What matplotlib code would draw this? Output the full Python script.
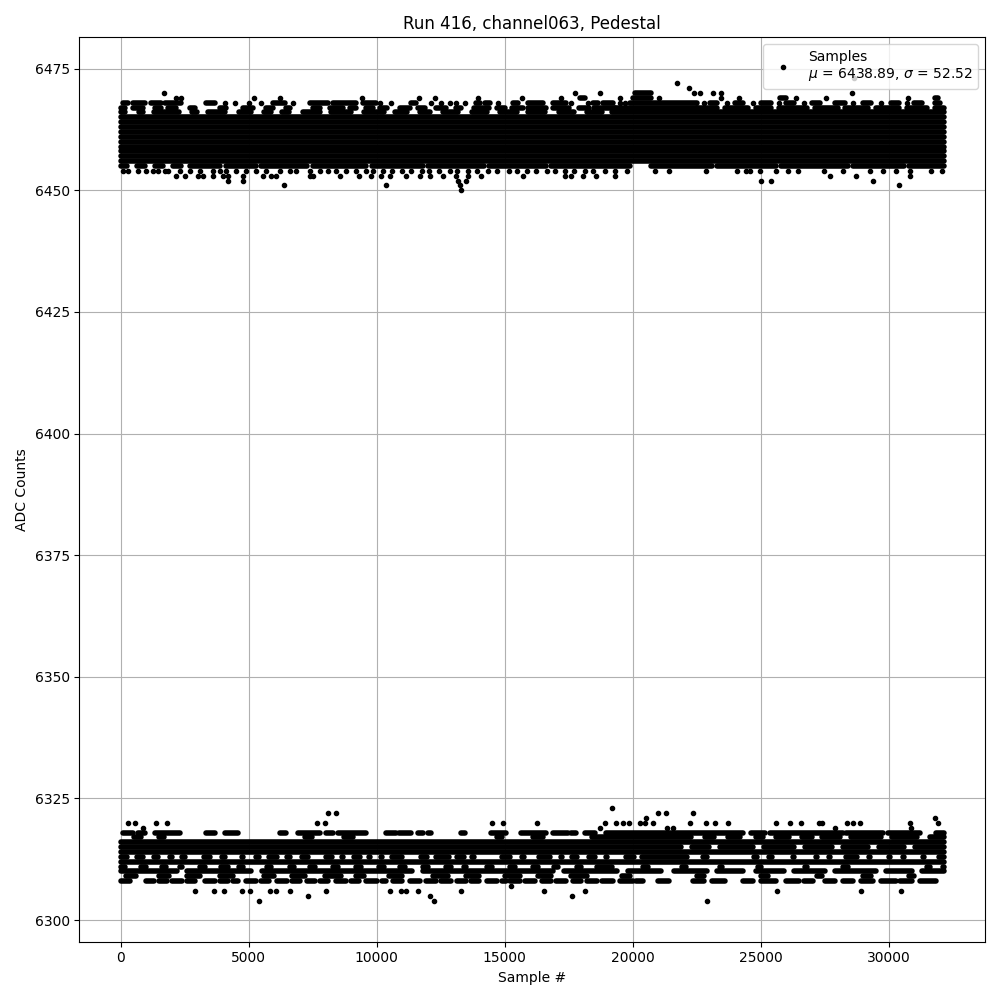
import matplotlib
matplotlib.use("Agg")
import matplotlib.pyplot as plt

# samples run from 0 to ~32150, ADC values are integers
X_END = 32150
R = 109  # dot radius in samples (used to place white gaps between dots)

# ---- upper band (ADC ~6456..6468) ----
up_full_levels = list(range(6456, 6466))

up_gaps = {
    6466: [(300, 600), (1000, 1200), (2400, 2700), (3100, 3300), (4200, 4500), (5200, 5500),
           (6000, 6200), (6700, 7000), (7900, 8100), (9100, 9400), (10400, 10600),
           (11300, 11600), (12200, 12500), (13300, 13600), (14400, 14700), (15600, 15800),
           (16700, 17000), (17800, 18100), (18900, 19100)],
}

up_runs = {
    6467: [(26, 156), (481, 872), (1328, 1588), (1848, 2174), (2695, 2890), (3866, 4127),
           (4778, 5168), (5689, 5950), (6470, 6600), (7512, 7772), (8163, 8684), (8944, 9205),
           (9595, 9856), (10117, 10400), (10900, 11300), (11600, 11900), (12300, 12700),
           (13100, 13300), (13800, 14400), (14700, 15000), (15300, 15700), (15900, 16600),
           (16900, 17500), (17900, 18300), (18500, 19300), (19300, 22500), (22500, 23300),
           (23600, 24500), (24800, 25400), (25700, 26800), (27100, 28000), (28300, 29200),
           (29500, 30400), (30700, 31500), (31800, 32150)],
    6468: [(90, 286), (481, 937), (1197, 1588), (1718, 2369), (3345, 3671), (5950, 6405),
           (7382, 8098), (8293, 9205), (9465, 9986), (11354, 11549), (13893, 14023),
           (14218, 14414), (15325, 15520), (15911, 16497), (16888, 17408), (18450, 18646),
           (18841, 19231), (19882, 22500), (23000, 23300), (24000, 24300), (25000, 25400),
           (26000, 26300), (27000, 27300), (27900, 28300), (29000, 29300), (30100, 30400),
           (31000, 31300), (31800, 32000)],
    6469: [(17929, 18125), (20000, 20700), (25742, 26003), (31796, 31926)],
    6470: [(20077, 20729)],
    6455: [(0, 250), (650, 950), (1350, 1650), (2050, 2350), (2700, 3900), (4100, 5300),
           (5500, 7300), (7500, 9600), (9800, 11800), (12000, 14200), (14400, 16600),
           (16800, 19900), (20700, 23100), (23300, 25600), (25800, 28400), (28600, 30600),
           (30800, 32150)],
}

up_points = {
    6473: [28630],
    6472: [21744],
    6471: [22200],
    6470: [1692, 17734, 18710, 22383, 22617, 23138, 23464, 28567],
    6469: [2174, 2343, 5207, 6210, 9439, 11653, 12265, 13958, 15690, 17213, 19492, 21028,
           23464, 24154, 26393, 27565, 30755],
    6468: [4062, 4452, 5012, 5494, 6731, 10117, 10573, 12135, 12526, 12851, 13112, 13437,
           14739, 17604, 18255, 19492, 19687, 22800, 23700, 24700, 25700, 26700, 28600,
           29700, 30700],
    6454: [90, 286, 677, 1002, 1262, 1458, 1718, 1848, 2304, 2695, 3085, 3606, 3866, 4127,
           4517, 4908, 5299, 5689, 6210, 6601, 6861, 7382, 7772, 8098, 8423, 8814, 9205, 9595,
           9856, 10230, 10610, 10990, 11350, 11780, 12050, 12430, 12870, 13150, 13560, 13920,
           14360, 14690, 15150, 15480, 15870, 16240, 16650, 16980, 17360, 17720, 18120, 18460,
           18930, 19310, 19760, 20880, 21420, 22878, 24075, 24440, 24596, 24961, 25612, 26068,
           26458, 27474, 28216, 29257, 29778, 30299, 30820, 31666, 32083],
    6453: [2174, 2499, 3020, 3215, 3606, 3997, 4192, 4778, 5559, 5885, 6080, 7382, 7512, 8554,
           9309, 9791, 10182, 10508, 11159, 11679, 12070, 12591, 13112, 13567, 14088, 15716,
           17343, 17604, 18059, 18580, 19296, 27695, 28737, 30820],
    6452: [4192, 4778, 13177, 13502, 25026, 25417, 29387],
    6451: [6380, 10377, 13242, 30390],
    6450: [13281],
}

# ---- lower band (ADC ~6310..6318) ----
low_full_levels = [6312, 6314, 6316]

# white gaps (sample ranges) inside otherwise filled rows
low_gaps = {
    6315: [(22000, 22200), (23100, 23300), (24800, 25000), (26400, 26600), (27900, 28100),
           (29300, 29500), (30700, 30900)],
    6313: [(351, 546), (1002, 1197), (1588, 1809), (2109, 2304), (2630, 2825), (3020, 3150),
           (3606, 3866), (4192, 4387), (4517, 4648), (4908, 5168), (5533, 5689), (6210, 6405),
           (6731, 6991), (7421, 7577), (7772, 7903), (8358, 8554), (8814, 9009), (9465, 9595),
           (9856, 10051), (10312, 10508), (11094, 11289), (11484, 11614), (12070, 12200),
           (12916, 13047), (13502, 13632), (13893, 14414), (14609, 14804), (15325, 15585),
           (15846, 16237), (16888, 17083), (17343, 17538), (17929, 18189), (18645, 18840),
           (19101, 19361), (19426, 19622), (20143, 20273), (22227, 22617), (23008, 23529),
           (23659, 24049), (24180, 24635), (24961, 25221), (25547, 26133), (26393, 27044),
           (27304, 27565), (27825, 28216), (28867, 29127), (29387, 29908), (30169, 30429),
           (30690, 31210), (31471, 31861)],
    6311: [(300, 700), (1100, 1500), (1900, 2200), (2500, 3000), (3400, 3800), (4300, 4500),
           (4900, 5600), (6000, 6500), (6900, 7300), (7700, 8200), (8600, 9100), (9500, 10000),
           (10400, 10800), (11200, 11700), (12100, 12600), (13000, 13300), (13600, 14200),
           (14600, 15100), (15500, 16000), (16400, 16800), (17200, 17700), (18100, 18500),
           (19300, 20300), (20700, 21800), (22200, 23300), (23600, 24800), (25100, 26600),
           (26900, 28100), (28500, 29900), (30100, 31400), (31700, 32000)],
    6310: [(2300, 2500), (5200, 5400), (11500, 11700), (17000, 17200), (19500, 19700),
           (21200, 21500), (23000, 23200), (24400, 24700), (26000, 26200), (27600, 27800),
           (29600, 29800), (31000, 31200)],
    6317: [(0, 400), (900, 1400), (1800, 4300), (4500, 7100), (7600, 8600), (9200, 14600),
           (15000, 16000), (16600, 18300), (22400, 22700), (23300, 23600), (24300, 24700),
           (25200, 25500), (26200, 26500), (27100, 27300), (28200, 28400), (29800, 30000),
           (31200, 31500)],
}

low_runs = {
    6318: [(90, 480), (680, 940), (1330, 2305), (3345, 3670), (4060, 4580), (6210, 6470),
           (6930, 7770), (8030, 8290), (8490, 9600), (10377, 10768), (10872, 11354),
           (11614, 11810), (12005, 12135), (13307, 13437), (14479, 15065), (15651, 16627),
           (16888, 17474), (17604, 17799), (18125, 18515), (18971, 24310), (24635, 25156),
           (25351, 28216), (28346, 29778), (29973, 31210), (31861, 32150)],
    6309: [(200, 600), (1500, 1900), (2600, 3100), (3900, 4400), (5600, 6000), (6700, 7200),
           (8000, 8600), (9200, 9500), (10500, 11000), (12200, 12800), (13500, 14000),
           (15000, 15600), (16300, 16800), (17600, 18200), (19600, 19900), (22500, 22800),
           (25000, 25300), (27200, 27400), (29000, 29300), (30800, 31000)],
    6308: [(0, 350), (1000, 1300), (1500, 1800), (2000, 2400), (2600, 2900), (3300, 3700),
           (3900, 4200), (4400, 4600), (4900, 5300), (5500, 5800), (6100, 6500), (6700, 7000),
           (7300, 7600), (7800, 8100), (8400, 8800), (9000, 9300), (9600, 10000),
           (10200, 10377), (10638, 11000), (11300, 11679), (11940, 12300), (12500, 12900),
           (13150, 13500), (13700, 14000), (14300, 14700), (14900, 15065), (15195, 15600),
           (15800, 16200), (16450, 16800), (17000, 17400), (17650, 18000), (18200, 18600),
           (18800, 19231), (19492, 20012), (20143, 20400), (21000, 21400), (22357, 22800),
           (23100, 23594), (24310, 24700), (25000, 25612), (26003, 26500), (26700, 27044),
           (27500, 27900), (28200, 28606), (28932, 29400), (29700, 30299), (30429, 30900),
           (31200, 31861)],
}

low_points = {
    6323: [19192],
    6322: [8100, 8397, 20989, 21314, 22357],
    6321: [20533, 31796],
    6320: [286, 572, 1393, 1809, 7670, 7968, 14518, 14935, 16263, 18906, 19361, 19622, 19856,
           20273, 20494, 20794, 22227, 22852, 23203, 23724, 25612, 26133, 26588, 27278, 27408,
           28385, 28606, 28867, 30820, 31926],
    6319: [872, 18710, 21340, 21575, 27890, 30885],
    6307: [15260],
    6306: [2890, 3632, 4023, 4739, 5039, 5820, 6080, 6600, 8030, 10508, 10963, 11158, 11614,
           13307, 16523, 18125, 25638, 28932, 30494],
    6305: [7317, 12070, 17630],
    6304: [5403, 12226, 22904],
}

mu = 6438.89
sigma = 52.52


def runs_from_gaps(gaps, start=0, end=X_END):
    runs, cur = [], start
    for g0, g1 in gaps:
        if g0 - R > cur:
            runs.append((cur, g0 - R))
        cur = max(cur, g1 + R)
    if end > cur:
        runs.append((cur, end))
    return runs


# collect every horizontal stretch of samples
segments = []
for lev in up_full_levels + low_full_levels:
    segments.append((lev, 0, X_END))
for table in (up_runs, low_runs):
    for lev, runs in table.items():
        for a, b in runs:
            segments.append((lev, a, b))
for table in (up_gaps, low_gaps):
    for lev, gaps in table.items():
        for a, b in runs_from_gaps(gaps):
            segments.append((lev, a, b))

px, py = [], []
for table in (up_points, low_points):
    for lev, xs in table.items():
        px += xs
        py += [lev] * len(xs)

fig, ax = plt.subplots(figsize=(10, 10), dpi=100)

lc = ax.hlines([s[0] for s in segments], [s[1] for s in segments], [s[2] for s in segments],
               colors='k', linewidth=4.0, zorder=2)
lc.set_capstyle('round')

ax.plot(px, py, 'k.', label=f'Samples\n$\\mu$ = {mu:.2f}, $\\sigma$ = {sigma:.2f}')

ax.set_title('Run 416, channel063, Pedestal')
ax.set_xlabel('Sample #')
ax.set_ylabel('ADC Counts')
ax.set_yticks([6300, 6325, 6350, 6375, 6400, 6425, 6450, 6475])
ax.grid(True)
ax.legend(loc='upper right')

plt.tight_layout()
plt.savefig('out.png', dpi=100)
